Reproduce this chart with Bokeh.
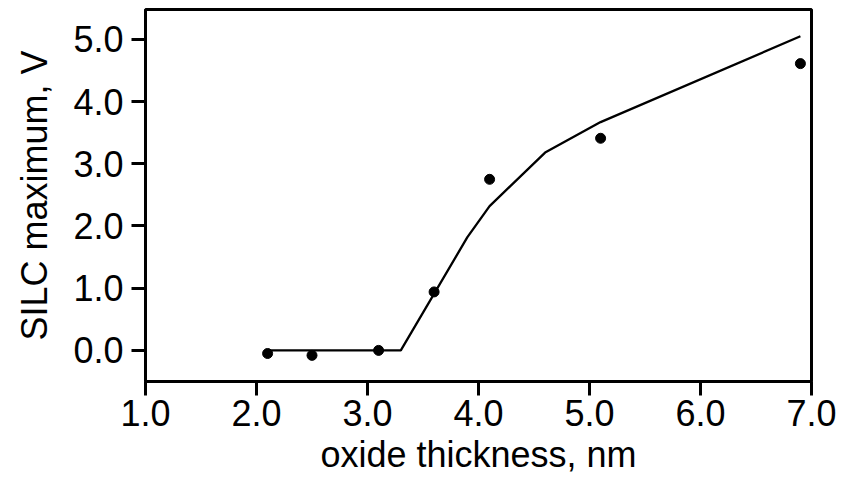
from bokeh.plotting import figure
from bokeh.models import FixedTicker, Range1d, NumeralTickFormatter
from bokeh.embed import file_html
from bokeh.resources import INLINE

# measured points
pt_x = [2.1, 2.5, 3.1, 3.6, 4.1, 5.1, 6.9]
pt_y = [-0.05, -0.08, 0.0, 0.94, 2.75, 3.41, 4.61]

# model curve
line_x = [2.1, 3.3, 3.9, 4.1, 4.6, 5.1, 6.9]
line_y = [0.0, 0.0, 1.82, 2.32, 3.18, 3.67, 5.05]

x_ticks = [1, 2, 3, 4, 5, 6, 7]
y_ticks = [0, 1, 2, 3, 4, 5]

FONT = "Liberation Sans"
FS = "36px"

p = figure(width=846, height=477, output_backend="svg", toolbar_location=None,
           x_range=Range1d(1.0, 7.0), y_range=Range1d(-0.5, 5.48),
           min_border_left=145, min_border_right=35, min_border_top=9, min_border_bottom=96)

p.line(line_x, line_y, line_color="black", line_width=2.3)
p.scatter(pt_x, pt_y, size=10, fill_color="black", line_color="black")

p.grid.visible = False
p.outline_line_color = "black"
p.outline_line_width = 3
p.background_fill_color = "white"
p.border_fill_color = "white"

for ax, ticks in ((p.xaxis[0], x_ticks), (p.yaxis[0], y_ticks)):
    ax.ticker = FixedTicker(ticks=ticks)
    ax.formatter = NumeralTickFormatter(format="0.0")
    ax.major_tick_out = 14
    ax.major_tick_in = 0
    ax.minor_tick_line_color = None
    ax.major_tick_line_width = 3
    ax.major_tick_line_color = "black"
    ax.axis_line_color = "black"
    ax.axis_line_width = 3
    ax.major_label_text_font = FONT
    ax.major_label_text_font_size = FS
    ax.major_label_text_color = "black"
    ax.axis_label_text_font = FONT
    ax.axis_label_text_font_size = FS
    ax.axis_label_text_font_style = "normal"
    ax.axis_label_text_color = "black"

p.xaxis.axis_label = "oxide thickness, nm"
p.yaxis.axis_label = "SILC maximum, V"
p.xaxis.major_label_standoff = 4
p.xaxis.axis_label_standoff = 5
p.yaxis.major_label_standoff = 8
p.yaxis.axis_label_standoff = 15

open("out.html", "w").write(file_html(p, INLINE))
